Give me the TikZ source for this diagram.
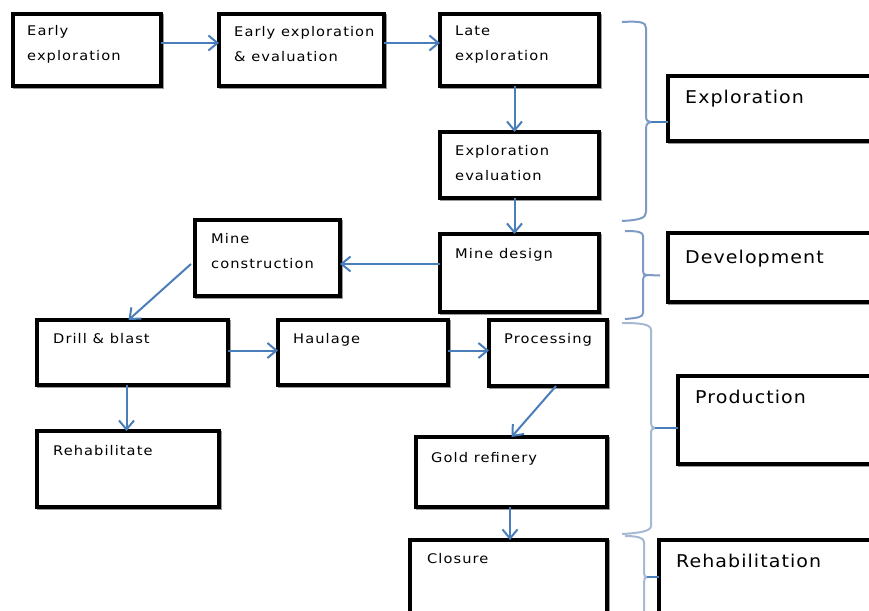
\documentclass[tikz,border=0pt]{standalone}
\usepackage{fontspec}
\usetikzlibrary{arrows.meta}
\newfontfamily\dfont[LetterSpace=8, FakeStretch=1.1]{DejaVu Sans}
\newfontfamily\dfontL[LetterSpace=6, FakeStretch=1.08]{DejaVu Sans}
\definecolor{arrblue}{HTML}{4A7EBB}
\definecolor{braceA}{HTML}{7D9BC6}
\definecolor{braceB}{HTML}{A6B9D3}
\tikzset{
  box/.style={draw=black, line width=3.4pt, inner sep=0pt, outer sep=0pt, anchor=north west,
    preaction={draw=black!40, line width=3.4pt, transform canvas={xshift=1.2pt,yshift=-1.4pt}}, fill=white},
  txt/.style={anchor=base west, inner sep=0pt, align=left, font=\dfont\fontsize{13.3}{24.5}\selectfont},
  bigtxt/.style={anchor=base west, inner sep=0pt, align=left, font=\dfontL\fontsize{17.6}{20}\selectfont},
  arr/.style={draw=arrblue, line width=2pt, -{Straight Barb[length=9pt,width=15pt,line width=2pt]}},
  bra/.style={draw=braceA, line width=2pt},
  brb/.style={draw=braceB, line width=2pt},
}
\newcommand{\bx}[5]{\node[box, minimum width=#4pt-#2pt, minimum height=#5pt-#3pt] (#1) at (#2,#3) {};}
\begin{document}
\begin{tikzpicture}[x=1pt,y=-1pt]
\useasboundingbox[fill=white] (0,0) rectangle (869,610);
% boxes
\bx{ee}{13}{14}{161}{86}
\bx{eee}{219}{14}{384}{86}
\bx{le}{440}{14}{599}{86}
\bx{ev}{440}{132}{599}{198}
\bx{md}{440}{234}{599}{312}
\bx{mc}{195}{220}{340}{296}
\bx{db}{37}{320}{228}{385}
\bx{ha}{278}{320}{448}{385}
\bx{pr}{489}{320}{607}{386}
\bx{rh}{37}{431}{219}{507}
\bx{gr}{416}{437}{607}{507}
\bx{cl}{410}{540}{607}{625}
\bx{EX}{668}{76}{885}{141}
\bx{DV}{668}{233}{885}{302}
\bx{PD}{678}{376}{885}{464}
\bx{RB}{659}{540}{885}{625}
% texts (multi-line nodes placed by their last baseline)
\node[txt] (tee) at (27,60) {Early\\exploration};
\node[txt] (teee) at (234,61) {Early exploration\\\& evaluation};
\node[txt] (tle) at (455,60) {Late\\exploration};
\node[txt] (tev) at (455,180) {Exploration\\evaluation};
\node[txt] (tmd) at (455,258) {Mine design};
\node[txt] (tmc) at (211,268) {Mine\\construction};
\node[txt] (tdb) at (53,343) {Drill \& blast};
\node[txt] (tha) at (293,343) {Haulage};
\node[txt] (tpr) at (504,343) {Processing};
\node[txt] (trh) at (53,455) {Rehabilitate};
\node[txt] (tgr) at (431,462) {Gold refinery};
\node[txt] (tcl) at (427,563) {Closure};
\node[bigtxt] (tEX) at (685,103) {Exploration};
\node[bigtxt] (tDV) at (685,263) {Development};
\node[bigtxt] (tPD) at (695,403) {Production};
\node[bigtxt] (tRB) at (676,567) {Rehabilitation};
% arrows
\draw[arr] ([yshift=7pt]ee.east) -- ([yshift=7pt]ee.east -| eee.west);
\draw[arr] ([yshift=7pt]eee.east) -- ([yshift=7pt]eee.east -| le.west);
\draw[arr] ([xshift=-5pt]le.south) -- ([xshift=-5pt]le.south |- ev.north);
\draw[arr] ([xshift=-5pt]ev.south) -- ([xshift=-5pt]ev.south |- md.north);
\draw[arr] ([yshift=9pt]md.west) -- ([yshift=9pt]md.west -| mc.east);
\draw[arr] ([xshift=-4pt,yshift=-6pt]mc.west) -- ([xshift=-4pt]db.north);
\draw[arr] ([yshift=2pt]db.east) -- ([yshift=2pt]db.east -| ha.west);
\draw[arr] ([yshift=2pt]ha.east) -- ([yshift=2pt]ha.east -| pr.west);
\draw[arr] ([xshift=-6pt]db.south) -- ([xshift=-6pt]db.south |- rh.north);
\draw[arr] ([xshift=8pt]pr.south) -- (gr.north);
\draw[arr] ([xshift=-1.5pt]gr.south) -- ([xshift=-1.5pt]gr.south |- cl.north);
% braces
\coordinate (b1) at (651,122);
\draw[bra] (622,22) .. controls (640,21) and (646,22) .. (646,28) -- (646,116) .. controls (646,121) and (648,122) .. (b1);
\draw[bra] (b1) .. controls (648,122) and (646,124) .. (646,129) -- (646,212) .. controls (646,218) and (640,220) .. (622,221);
\draw[draw=arrblue, line width=2pt] (b1) -- (b1 -| EX.west);
\coordinate (b2) at (647,275);
\coordinate (b2t) at (660,275.5);
\draw[bra] (625,231) .. controls (638,231) and (643,232) .. (643,236) -- (643,271) .. controls (643,274) and (644,275) .. (b2);
\draw[bra] (b2) .. controls (644,275) and (643,277) .. (643,280) -- (643,313) .. controls (643,317) and (638,318) .. (625,319);
\draw[bra] (b2) -- (b2t);
\coordinate (b3) at (655,428);
\draw[brb] (622,323) .. controls (640,323) and (651,324) .. (651,330) -- (651,423) .. controls (651,426) and (652,428) .. (b3);
\draw[brb] (b3) .. controls (652,428) and (651,430) .. (651,434) -- (651,526) .. controls (651,531) and (640,533) .. (622,534);
\draw[draw=arrblue, line width=2pt] (b3) -- (b3 -| PD.west);
\coordinate (b4) at (647,577);
\draw[brb] (625,536) .. controls (638,536) and (644,538) .. (644,542) -- (644,573) .. controls (644,576) and (645,577) .. (b4);
\draw[brb] (b4) .. controls (645,577) and (644,579) .. (644,582) -- (644,615);
\draw[draw=arrblue, line width=2pt] (b4) -- (b4 -| RB.west);
\end{tikzpicture}
\end{document}
